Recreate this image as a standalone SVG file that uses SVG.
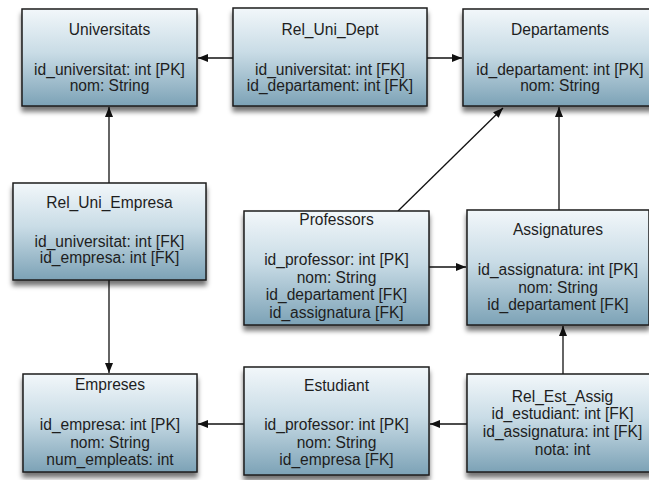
<svg xmlns="http://www.w3.org/2000/svg" width="649" height="480" viewBox="0 0 649 480">
  <defs>
    <linearGradient id="boxFill" x1="0" y1="0" x2="0" y2="1">
      <stop offset="0" stop-color="#f2f7fa"/>
      <stop offset="0.45" stop-color="#c9dce6"/>
      <stop offset="1" stop-color="#7ca2b6"/>
    </linearGradient>
    <filter id="shadow" x="-10%" y="-10%" width="120%" height="130%">
      <feGaussianBlur in="SourceAlpha" stdDeviation="2.5"/>
      <feOffset dx="0" dy="5" result="blur"/>
      <feComponentTransfer><feFuncA type="linear" slope="0.55"/></feComponentTransfer>
      <feMerge><feMergeNode/><feMergeNode in="SourceGraphic"/></feMerge>
    </filter>
    <marker id="arrow" markerUnits="userSpaceOnUse" markerWidth="11" markerHeight="9" refX="10" refY="4" orient="auto">
      <path d="M0,0 L10,4 L0,8 z" fill="#111"/>
    </marker>
  </defs>
  <style>
    .box { fill: url(#boxFill); stroke: #1c1c1c; stroke-width: 1.5; filter: url(#shadow); }
    .t { font-family: "Liberation Sans", Arial, Helvetica, sans-serif; font-size: 15.6px; fill: #1e1e1e; text-anchor: middle; }
    .edge { fill: none; stroke: #111; stroke-width: 1.3; marker-end: url(#arrow); }
  </style>

  <rect width="649" height="480" fill="#ffffff"/>

  <!-- connectors -->
  <g id="connectors">
    <path class="edge" d="M233,58 L198,58"/>
    <path class="edge" d="M427,58 L462,58"/>
    <path class="edge" d="M109,183 L109,107"/>
    <path class="edge" d="M109,280 L109,373"/>
    <path class="edge" d="M398,211 L503,108"/>
    <path class="edge" d="M559,210 L559,107"/>
    <path class="edge" d="M429,267 L466,267"/>
    <path class="edge" d="M563,374 L563,326"/>
    <path class="edge" d="M467,424 L430,424"/>
    <path class="edge" d="M244,424 L198,424"/>
  </g>

  <!-- tables -->
  <g id="universitats">
    <rect class="box" x="22" y="9" width="175" height="97"/>
    <text class="t" x="109.5" y="35">Universitats</text>
    <text class="t" x="109.5" y="75">id_universitat: int [PK]</text>
    <text class="t" x="109.5" y="91">nom: String</text>
  </g>

  <g id="rel_uni_dept">
    <rect class="box" x="233" y="8" width="194" height="98"/>
    <text class="t" x="330" y="35">Rel_Uni_Dept</text>
    <text class="t" x="330" y="75">id_universitat: int [FK]</text>
    <text class="t" x="330" y="91">id_departament: int [FK]</text>
  </g>

  <g id="departaments">
    <rect class="box" x="463" y="9" width="194" height="97"/>
    <text class="t" x="560" y="35">Departaments</text>
    <text class="t" x="560" y="75">id_departament: int [PK]</text>
    <text class="t" x="560" y="91">nom: String</text>
  </g>

  <g id="rel_uni_empresa">
    <rect class="box" x="13" y="183" width="193" height="97"/>
    <text class="t" x="109.5" y="208">Rel_Uni_Empresa</text>
    <text class="t" x="109.5" y="247">id_universitat: int [FK]</text>
    <text class="t" x="109.5" y="263">id_empresa: int [FK]</text>
  </g>

  <g id="professors">
    <rect class="box" x="244" y="211" width="185" height="114"/>
    <text class="t" x="336.5" y="225">Professors</text>
    <text class="t" x="336.5" y="265">id_professor: int [PK]</text>
    <text class="t" x="336.5" y="282.5">nom: String</text>
    <text class="t" x="336.5" y="300">id_departament [FK]</text>
    <text class="t" x="336.5" y="317.5">id_assignatura [FK]</text>
  </g>

  <g id="assignatures">
    <rect class="box" x="467" y="210" width="182" height="115"/>
    <text class="t" x="558" y="235">Assignatures</text>
    <text class="t" x="558" y="275">id_assignatura: int [PK]</text>
    <text class="t" x="558" y="292.5">nom: String</text>
    <text class="t" x="558" y="310">id_departament [FK]</text>
  </g>

  <g id="empreses">
    <rect class="box" x="23" y="374" width="174" height="98"/>
    <text class="t" x="110" y="390">Empreses</text>
    <text class="t" x="110" y="430">id_empresa: int [PK]</text>
    <text class="t" x="110" y="447.5">nom: String</text>
    <text class="t" x="110" y="465">num_empleats: int</text>
  </g>

  <g id="estudiant">
    <rect class="box" x="244" y="367" width="185" height="108"/>
    <text class="t" x="336.5" y="391">Estudiant</text>
    <text class="t" x="336.5" y="430">id_professor: int [PK]</text>
    <text class="t" x="336.5" y="447.5">nom: String</text>
    <text class="t" x="336.5" y="465">id_empresa [FK]</text>
  </g>

  <g id="rel_est_assig">
    <rect class="box" x="467" y="374" width="191" height="98"/>
    <text class="t" x="562.5" y="402">Rel_Est_Assig</text>
    <text class="t" x="562.5" y="419">id_estudiant: int [FK]</text>
    <text class="t" x="562.5" y="437">id_assignatura: int [FK]</text>
    <text class="t" x="562.5" y="455">nota: int</text>
  </g>
</svg>
